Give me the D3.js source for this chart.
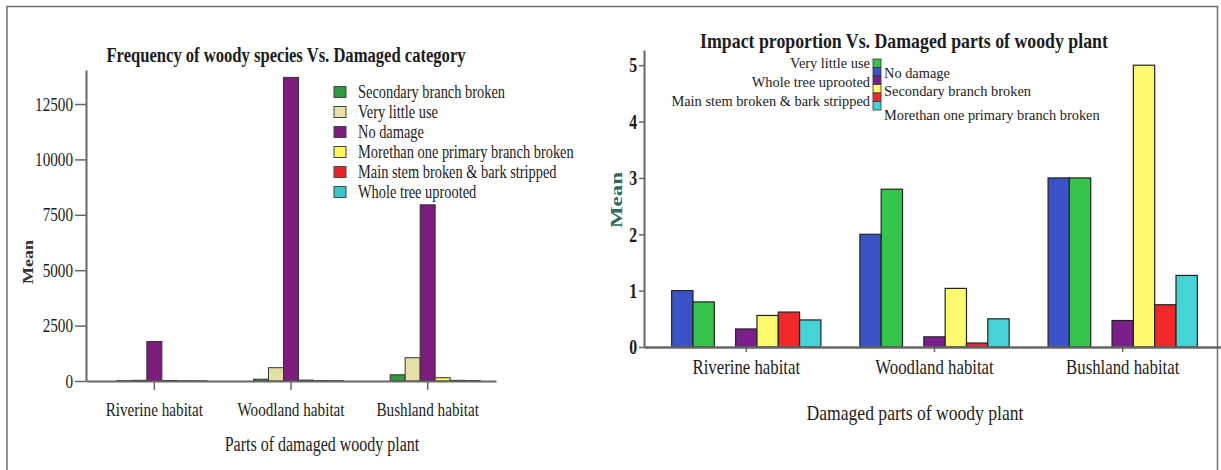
<!DOCTYPE html>
<html>
<head>
<meta charset="utf-8">
<script src="https://cdn.jsdelivr.net/npm/d3@7"></script>
<style>
  body { margin: 0; background: #fff; }
  svg { display: block; font-family: "Liberation Serif", "Times New Roman", serif; }
</style>
</head>
<body>
<svg id="chart" width="1221" height="470"></svg>
<script>
// categories shared by both panels
const habitats = ["Riverine habitat", "Woodland habitat", "Bushland habitat"];

// left panel - frequency of woody species (mean)
const freqSeries = ["Secondary branch broken", "Very little use", "No damage", "Morethan one primary branch broken", "Main stem broken & bark stripped", "Whole tree uprooted"];
const freqColors = ["#2f9a3e", "#e6dfa6", "#7c1d7e", "#fbf65c", "#e32626", "#3cc6cc"];
const freqSecondary = [15, 80, 280];
const freqVeryLittle = [30, 600, 1050];
const freqNoDamage = [1780, 13700, 7950];
const freqMorethan = [25, 40, 150];
const freqMainStem = [10, 20, 30];
const freqUprooted = [8, 15, 20];
const freqTicks = [0, 2500, 5000, 7500, 10000, 12500];

// right panel - impact proportion (mean); third slot is an empty cluster position
const impactSlots = ["No damage", "Very little use", "", "Whole tree uprooted", "Secondary branch broken", "Main stem broken & bark stripped", "Morethan one primary branch broken"];
const impactColors = ["#3a54c6", "#35c44c", "none", "#7a1f8c", "#fcfa6e", "#f02a2a", "#45d3d8"];
const impactNoDamage = [1.0, 2.0, 3.0];
const impactVeryLittle = [0.8, 2.8, 3.0];
const impactBlank = [0, 0, 0];
const impactUprooted = [0.32, 0.18, 0.47];
const impactSecondary = [0.56, 1.04, 5.0];
const impactMainStem = [0.62, 0.07, 0.75];
const impactMorethan = [0.48, 0.5, 1.27];
const impactTicks = [0, 1, 2, 3, 4, 5];
// legend boxes top to bottom, labels alternate left / right
const impactLegend = ["Very little use", "No damage", "Whole tree uprooted", "Secondary branch broken", "Main stem broken & bark stripped", "Morethan one primary branch broken"];

const freqValues = [freqSecondary, freqVeryLittle, freqNoDamage, freqMorethan, freqMainStem, freqUprooted];
const impactValues = [impactNoDamage, impactVeryLittle, impactBlank, impactUprooted, impactSecondary, impactMainStem, impactMorethan];

const svg = d3.select("#chart");
const axisColor = "#666";
const textColor = "#1c1c1c";
// the source picture is squeezed sideways, so text is narrowed a bit
const squeeze = 0.8;

// outer frame
svg.append("path")
  .attr("d", "M7,470 V6.5 H1217.5 V470")
  .attr("fill", "none")
  .attr("stroke", "#6f6f6f")
  .attr("stroke-width", 1.5);

function styleAxis(g, width, sx) {
  g.selectAll(".domain").attr("stroke", axisColor).attr("stroke-width", width);
  g.selectAll(".tick line").attr("stroke", axisColor).attr("stroke-width", 1.5);
  g.selectAll("text")
    .attr("fill", textColor)
    .attr("x", function() { return (+d3.select(this).attr("x") || 0) / sx; })
    .attr("transform", `scale(${sx},1)`);
}

function label(x, y, str, size, opts = {}) {
  const sx = opts.sx || squeeze;
  return svg.append("text")
    .attr("transform", opts.rotate
      ? `translate(${x},${y}) rotate(-90) scale(1,${sx})`
      : `translate(${x},${y}) scale(${sx},1)`)
    .attr("text-anchor", "middle")
    .attr("font-size", size)
    .attr("font-weight", opts.bold ? "bold" : null)
    .attr("fill", opts.color || textColor)
    .text(str);
}

// ---------- left panel ----------
{
  const left = 86, right = 496, top = 70, bottom = 381;

  const x0 = d3.scaleBand().domain(habitats).range([left, right]);
  const bw = 15;
  // cluster of 6, tick sits under the third bar
  const x1 = d3.scaleBand().domain(freqSeries).range([-2.5 * bw, 3.5 * bw]);
  const y = d3.scaleLinear().domain([0, 14034]).range([bottom, top]);

  const rows = habitats.map((h, i) => ({
    habitat: h,
    bars: freqSeries.map((s, j) => ({ series: s, value: freqValues[j][i], color: freqColors[j] }))
  }));

  const groups = svg.append("g").selectAll("g")
    .data(rows)
    .join("g")
    .attr("transform", d => `translate(${x0(d.habitat) + x0.bandwidth() / 2},0)`);

  groups.selectAll("rect")
    .data(d => d.bars)
    .join("rect")
    .attr("x", d => x1(d.series))
    .attr("y", d => y(d.value))
    .attr("width", x1.bandwidth())
    .attr("height", d => bottom - y(d.value))
    .attr("fill", d => d.color)
    .attr("stroke", "#333")
    .attr("stroke-width", 1);

  // Y axis
  const gy = svg.append("g")
    .attr("transform", `translate(${left},0)`)
    .call(d3.axisLeft(y).tickValues(freqTicks).tickFormat(d3.format("d"))
      .tickSize(11).tickSizeOuter(0).tickPadding(2))
    .style("font-family", "inherit")
    .style("font-size", "19px");
  styleAxis(gy, 2, squeeze);

  // X axis
  const gx = svg.append("g")
    .attr("transform", `translate(0,${bottom})`)
    .call(d3.axisBottom(x0).tickSize(9).tickSizeOuter(0).tickPadding(13))
    .style("font-family", "inherit")
    .style("font-size", "19px");
  styleAxis(gx, 2, squeeze);

  label(286, 62, "Frequency of woody species Vs. Damaged category", 20, { bold: true, sx: 0.83 });
  label(322, 451, "Parts of damaged woody plant", 20);
  label(33, 262, "Mean", 18, { rotate: true, bold: true, color: "#333" });

  // legend
  const legend = svg.append("g").attr("transform", "translate(334,92)")
    .selectAll("g")
    .data(freqSeries)
    .join("g")
    .attr("transform", (d, i) => `translate(0,${i * 20})`);
  legend.append("rect")
    .attr("x", 0).attr("y", -5.5)
    .attr("width", 12).attr("height", 11)
    .attr("fill", (d, i) => freqColors[i])
    .attr("stroke", "#444");
  legend.append("text")
    .attr("transform", `translate(24,0) scale(0.8,1)`)
    .attr("dy", "0.35em")
    .attr("font-size", 18)
    .attr("fill", textColor)
    .text(d => d);
}

// ---------- right panel ----------
{
  const left = 644, right = 1225, top = 50, bottom = 347;

  const x0 = d3.scaleBand().domain(habitats).range([left, right])
    .paddingInner(0.207).paddingOuter(0.147);
  const x1 = d3.scaleBand().domain(impactSlots).range([0, x0.bandwidth()]);
  const y = d3.scaleLinear().domain([0, 5.27]).range([bottom, top]);

  const rows = habitats.map((h, i) => ({
    habitat: h,
    bars: impactSlots.map((s, j) => ({ series: s, value: impactValues[j][i], color: impactColors[j] }))
      .filter(b => b.series !== "")
  }));

  const groups = svg.append("g").selectAll("g")
    .data(rows)
    .join("g")
    .attr("transform", d => `translate(${x0(d.habitat)},0)`);

  groups.selectAll("rect")
    .data(d => d.bars)
    .join("rect")
    .attr("x", d => x1(d.series))
    .attr("y", d => y(d.value))
    .attr("width", x1.bandwidth())
    .attr("height", d => bottom - y(d.value))
    .attr("fill", d => d.color)
    .attr("stroke", "#222")
    .attr("stroke-width", 1.2);

  const gy = svg.append("g")
    .attr("transform", `translate(${left},0)`)
    .call(d3.axisLeft(y).tickValues(impactTicks).tickFormat(d3.format("d"))
      .tickSize(5).tickSizeOuter(0).tickPadding(2))
    .style("font-family", "inherit")
    .style("font-size", "21px")
    .style("font-weight", "bold");
  styleAxis(gy, 2, 0.75);

  const gx = svg.append("g")
    .attr("transform", `translate(0,${bottom})`)
    .call(d3.axisBottom(x0).tickSize(5).tickSizeOuter(0).tickPadding(7))
    .style("font-family", "inherit")
    .style("font-size", "21px");
  styleAxis(gx, 2.5, squeeze);

  label(904, 48, "Impact proportion Vs. Damaged parts of woody plant", 22, { bold: true, sx: 0.81 });
  label(915, 420, "Damaged parts of woody plant", 22);
  label(622, 200, "Mean", 23, { rotate: true, bold: true, color: "#2c6b5e", sx: 0.75 });

  // legend: stacked boxes, labels alternate sides
  const colorOf = name => impactColors[impactSlots.indexOf(name)];
  const boxH = 8.5;
  const labelShift = [-0.5, 0.5, 1.5, 2, 3, 8.5];
  const legend = svg.append("g").attr("transform", "translate(873,59)")
    .selectAll("g")
    .data(impactLegend)
    .join("g")
    .attr("transform", (d, i) => `translate(0,${i * boxH})`);
  legend.append("rect")
    .attr("width", 8).attr("height", boxH)
    .attr("fill", d => colorOf(d))
    .attr("stroke", "#333")
    .attr("stroke-width", 0.8);
  legend.append("text")
    .attr("transform", (d, i) =>
      `translate(${i % 2 === 0 ? -3 : 11},${boxH / 2 + labelShift[i]}) scale(0.96,1)`)
    .attr("dy", "0.35em")
    .attr("text-anchor", (d, i) => i % 2 === 0 ? "end" : "start")
    .attr("font-size", 15)
    .attr("fill", textColor)
    .text(d => d);
}
</script>
</body>
</html>
